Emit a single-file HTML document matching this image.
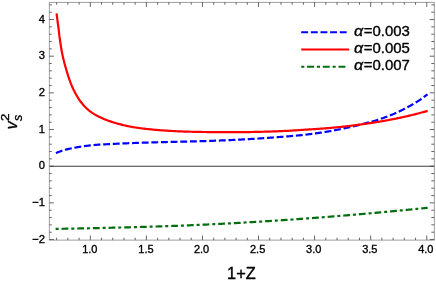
<!DOCTYPE html>
<html><head><meta charset="utf-8"><title>plot</title>
<style>
html,body{margin:0;padding:0;background:#fff;}
svg{display:block;font-family:"Liberation Sans",sans-serif;}
</style></head>
<body>
<svg width="436" height="284" viewBox="0 0 436 284">
<rect width="436" height="284" fill="#fff"/>
<g fill="none" stroke-linecap="butt">
<path d="M55.91,152.98 L56.75,152.66 L57.59,152.35 L58.43,152.03 L59.27,151.72 L60.12,151.42 L60.97,151.12 L61.82,150.83 L62.67,150.55 L63.53,150.28 L64.39,150.02 L65.25,149.77 L66.12,149.54 L66.99,149.32 L67.86,149.11 L68.74,148.91 L69.62,148.71 L70.49,148.51 L71.37,148.32 L72.25,148.14 L73.13,147.97 L74.01,147.80 L74.90,147.63 L75.78,147.47 L76.67,147.31 L77.55,147.16 L78.44,147.02 L79.33,146.88 L80.21,146.74 L81.10,146.60 L81.99,146.48 L82.88,146.35 L83.77,146.23 L84.66,146.11 L85.55,145.99 L86.44,145.88 L87.34,145.77 L88.23,145.66 L89.12,145.56 L90.01,145.45 L90.91,145.36 L91.80,145.26 L92.69,145.17 L93.59,145.08 L94.48,144.99 L95.38,144.90 L96.27,144.82 L97.17,144.74 L98.06,144.66 L98.96,144.59 L99.85,144.53 L100.75,144.48 L101.65,144.44 L102.55,144.40 L103.44,144.36 L104.34,144.33 L105.24,144.29 L106.14,144.26 L107.04,144.23 L107.93,144.19 L108.83,144.15 L109.73,144.11 L110.62,144.06 L111.52,144.01 L112.42,143.96 L113.32,143.91 L114.21,143.86 L115.11,143.82 L116.01,143.77 L116.91,143.73 L117.80,143.69 L118.70,143.64 L119.60,143.60 L120.50,143.56 L121.39,143.52 L122.29,143.48 L123.19,143.44 L124.09,143.40 L124.98,143.36 L125.88,143.33 L126.78,143.29 L127.68,143.25 L128.58,143.22 L129.47,143.18 L130.37,143.15 L131.27,143.11 L132.17,143.08 L133.06,143.04 L133.96,143.01 L134.86,142.98 L135.76,142.95 L136.66,142.91 L137.55,142.88 L138.45,142.85 L139.35,142.82 L140.25,142.79 L141.15,142.76 L142.04,142.73 L142.94,142.70 L143.84,142.67 L144.74,142.64 L145.64,142.61 L146.53,142.58 L147.43,142.56 L148.33,142.53 L149.23,142.50 L150.13,142.47 L151.03,142.45 L151.92,142.42 L152.82,142.39 L153.72,142.37 L154.62,142.34 L155.52,142.32 L156.41,142.29 L157.31,142.27 L158.21,142.24 L159.11,142.22 L160.01,142.19 L160.91,142.17 L161.80,142.15 L162.70,142.12 L163.60,142.10 L164.50,142.08 L165.40,142.05 L166.29,142.03 L167.19,142.01 L168.09,141.99 L168.99,141.96 L169.89,141.94 L170.79,141.92 L171.68,141.90 L172.58,141.88 L173.48,141.85 L174.38,141.83 L175.28,141.81 L176.18,141.79 L177.07,141.77 L177.97,141.74 L178.87,141.72 L179.77,141.70 L180.67,141.68 L181.56,141.66 L182.46,141.64 L183.36,141.62 L184.26,141.59 L185.16,141.57 L186.06,141.55 L186.95,141.53 L187.85,141.51 L188.75,141.49 L189.65,141.47 L190.55,141.44 L191.45,141.42 L192.34,141.40 L193.24,141.38 L194.14,141.36 L195.04,141.33 L195.94,141.31 L196.84,141.29 L197.73,141.27 L198.63,141.24 L199.53,141.22 L200.43,141.19 L201.33,141.17 L202.22,141.14 L203.12,141.11 L204.02,141.09 L204.92,141.06 L205.82,141.03 L206.71,141.00 L207.61,140.97 L208.51,140.94 L209.41,140.91 L210.31,140.88 L211.20,140.85 L212.10,140.81 L213.00,140.78 L213.90,140.75 L214.80,140.71 L215.69,140.68 L216.59,140.65 L217.49,140.61 L218.39,140.58 L219.29,140.54 L220.18,140.51 L221.08,140.47 L221.98,140.43 L222.88,140.40 L223.77,140.36 L224.67,140.32 L225.57,140.29 L226.47,140.25 L227.37,140.21 L228.26,140.17 L229.16,140.13 L230.06,140.09 L230.96,140.05 L231.85,140.01 L232.75,139.96 L233.65,139.92 L234.55,139.87 L235.44,139.83 L236.34,139.78 L237.24,139.74 L238.14,139.69 L239.03,139.64 L239.93,139.59 L240.83,139.55 L241.72,139.50 L242.62,139.45 L243.52,139.40 L244.42,139.35 L245.31,139.30 L246.21,139.25 L247.11,139.20 L248.00,139.15 L248.90,139.09 L249.80,139.04 L250.70,138.99 L251.59,138.94 L252.49,138.89 L253.39,138.84 L254.28,138.78 L255.18,138.73 L256.08,138.67 L256.97,138.62 L257.87,138.56 L258.77,138.50 L259.66,138.45 L260.56,138.39 L261.46,138.33 L262.35,138.27 L263.25,138.21 L264.15,138.15 L265.04,138.09 L265.94,138.02 L266.84,137.96 L267.73,137.90 L268.63,137.83 L269.52,137.77 L270.42,137.70 L271.32,137.64 L272.21,137.57 L273.11,137.50 L274.00,137.44 L274.90,137.37 L275.80,137.30 L276.69,137.23 L277.59,137.16 L278.48,137.09 L279.38,137.02 L280.28,136.95 L281.17,136.88 L282.07,136.81 L282.96,136.73 L283.86,136.66 L284.75,136.59 L285.65,136.52 L286.54,136.45 L287.44,136.37 L288.34,136.30 L289.23,136.23 L290.13,136.16 L291.02,136.08 L291.92,136.01 L292.81,135.93 L293.71,135.85 L294.60,135.78 L295.50,135.70 L296.39,135.62 L297.29,135.53 L298.18,135.45 L299.08,135.36 L299.97,135.28 L300.87,135.19 L301.76,135.10 L302.65,135.00 L303.55,134.91 L304.44,134.81 L305.33,134.71 L306.22,134.60 L307.12,134.50 L308.01,134.39 L308.90,134.28 L309.79,134.16 L310.68,134.05 L311.57,133.93 L312.46,133.82 L313.36,133.70 L314.25,133.58 L315.14,133.45 L316.03,133.33 L316.92,133.20 L317.81,133.08 L318.69,132.95 L319.58,132.81 L320.47,132.68 L321.36,132.55 L322.25,132.41 L323.14,132.27 L324.02,132.13 L324.91,131.99 L325.80,131.85 L326.68,131.70 L327.57,131.55 L328.46,131.40 L329.34,131.25 L330.23,131.09 L331.11,130.94 L332.00,130.78 L332.88,130.62 L333.76,130.46 L334.65,130.29 L335.53,130.13 L336.41,129.96 L337.30,129.79 L338.18,129.61 L339.06,129.44 L339.94,129.26 L340.82,129.08 L341.70,128.91 L342.58,128.72 L343.46,128.54 L344.34,128.36 L345.22,128.17 L346.10,127.98 L346.98,127.79 L347.85,127.60 L348.73,127.41 L349.61,127.21 L350.48,127.01 L351.36,126.81 L352.24,126.61 L353.11,126.41 L353.98,126.20 L354.86,125.99 L355.73,125.78 L356.60,125.57 L357.48,125.35 L358.35,125.13 L359.22,124.91 L360.09,124.69 L360.96,124.47 L361.83,124.24 L362.70,124.01 L363.57,123.78 L364.43,123.54 L365.30,123.31 L366.17,123.08 L367.04,122.86 L367.91,122.63 L368.78,122.40 L369.65,122.17 L370.52,121.94 L371.38,121.71 L372.25,121.47 L373.12,121.23 L373.98,120.98 L374.84,120.73 L375.70,120.47 L376.56,120.20 L377.42,119.93 L378.27,119.65 L379.13,119.38 L379.98,119.09 L380.83,118.81 L381.68,118.52 L382.53,118.23 L383.38,117.93 L384.23,117.63 L385.07,117.33 L385.92,117.02 L386.76,116.71 L387.60,116.39 L388.44,116.07 L389.28,115.75 L390.11,115.42 L390.95,115.08 L391.78,114.74 L392.61,114.39 L393.43,114.04 L394.26,113.69 L395.08,113.32 L395.90,112.96 L396.72,112.59 L397.54,112.21 L398.35,111.83 L399.17,111.45 L399.98,111.06 L400.78,110.67 L401.59,110.28 L402.40,109.88 L403.20,109.48 L404.00,109.07 L404.80,108.66 L405.60,108.25 L406.39,107.83 L407.19,107.41 L407.98,106.98 L408.77,106.55 L409.56,106.12 L410.34,105.69 L411.13,105.25 L411.91,104.80 L412.69,104.35 L413.46,103.90 L414.23,103.44 L415.00,102.98 L415.77,102.51 L416.53,102.04 L417.30,101.56 L418.05,101.08 L418.81,100.59 L419.56,100.10 L420.30,99.59 L421.04,99.08 L421.78,98.56 L422.51,98.04 L423.23,97.51 L423.96,96.98 L424.68,96.45 L425.40,95.91 L426.12,95.37 L426.84,94.83 L427.55,94.29" stroke="#0000ff" stroke-width="2.2" stroke-dasharray="6.89 2.756"/>
<path d="M56.56,13.33 L56.67,14.23 L56.78,15.12 L56.89,16.01 L57.00,16.90 L57.12,17.80 L57.23,18.69 L57.35,19.58 L57.47,20.47 L57.58,21.36 L57.70,22.25 L57.82,23.15 L57.94,24.04 L58.07,24.93 L58.19,25.82 L58.30,26.71 L58.42,27.60 L58.53,28.50 L58.64,29.39 L58.75,30.28 L58.85,31.17 L58.96,32.07 L59.06,32.96 L59.17,33.85 L59.28,34.75 L59.38,35.64 L59.50,36.53 L59.61,37.42 L59.73,38.32 L59.85,39.21 L59.97,40.10 L60.10,40.99 L60.23,41.88 L60.37,42.77 L60.50,43.66 L60.64,44.55 L60.78,45.43 L60.92,46.32 L61.06,47.21 L61.21,48.10 L61.36,48.98 L61.51,49.87 L61.67,50.76 L61.83,51.64 L62.00,52.52 L62.17,53.41 L62.35,54.29 L62.53,55.17 L62.72,56.05 L62.92,56.93 L63.12,57.80 L63.32,58.68 L63.53,59.55 L63.75,60.43 L63.97,61.30 L64.19,62.17 L64.42,63.04 L64.65,63.91 L64.88,64.78 L65.12,65.65 L65.36,66.51 L65.60,67.38 L65.85,68.25 L66.09,69.11 L66.34,69.97 L66.60,70.84 L66.85,71.70 L67.11,72.56 L67.37,73.42 L67.64,74.28 L67.91,75.14 L68.18,75.99 L68.46,76.85 L68.75,77.70 L69.04,78.55 L69.33,79.40 L69.63,80.25 L69.94,81.10 L70.25,81.94 L70.57,82.78 L70.90,83.62 L71.23,84.45 L71.57,85.29 L71.92,86.12 L72.28,86.94 L72.64,87.76 L73.02,88.58 L73.40,89.39 L73.79,90.20 L74.19,91.01 L74.60,91.81 L75.02,92.61 L75.44,93.40 L75.88,94.19 L76.32,94.97 L76.77,95.75 L77.23,96.52 L77.70,97.29 L78.18,98.05 L78.67,98.80 L79.17,99.55 L79.68,100.29 L80.20,101.02 L80.74,101.75 L81.28,102.46 L81.84,103.17 L82.40,103.87 L82.98,104.56 L83.57,105.24 L84.17,105.91 L84.79,106.56 L85.41,107.21 L86.05,107.84 L86.70,108.46 L87.37,109.07 L88.05,109.66 L88.74,110.24 L89.44,110.80 L90.15,111.35 L90.87,111.88 L91.60,112.41 L92.34,112.92 L93.09,113.42 L93.85,113.90 L94.61,114.38 L95.38,114.84 L96.16,115.29 L96.95,115.73 L97.74,116.15 L98.54,116.57 L99.34,116.97 L100.15,117.36 L100.97,117.74 L101.79,118.11 L102.62,118.47 L103.44,118.82 L104.28,119.16 L105.11,119.49 L105.95,119.82 L106.79,120.14 L107.63,120.45 L108.48,120.75 L109.33,121.05 L110.18,121.34 L111.03,121.63 L111.89,121.91 L112.74,122.18 L113.60,122.45 L114.46,122.71 L115.32,122.97 L116.19,123.22 L117.05,123.47 L117.92,123.71 L118.79,123.95 L119.66,124.18 L120.53,124.41 L121.40,124.63 L122.27,124.85 L123.14,125.06 L124.02,125.27 L124.89,125.48 L125.77,125.68 L126.65,125.87 L127.53,126.06 L128.41,126.25 L129.29,126.43 L130.17,126.60 L131.05,126.77 L131.94,126.93 L132.82,127.09 L133.71,127.24 L134.60,127.38 L135.49,127.52 L136.38,127.65 L137.27,127.77 L138.16,127.89 L139.05,128.01 L139.94,128.13 L140.84,128.24 L141.73,128.35 L142.62,128.47 L143.51,128.58 L144.41,128.69 L145.30,128.79 L146.19,128.90 L147.09,129.00 L147.98,129.09 L148.88,129.19 L149.77,129.28 L150.66,129.37 L151.56,129.46 L152.46,129.55 L153.35,129.63 L154.25,129.72 L155.14,129.80 L156.04,129.88 L156.93,129.95 L157.83,130.03 L158.73,130.10 L159.62,130.17 L160.52,130.24 L161.42,130.31 L162.31,130.37 L163.21,130.43 L164.11,130.49 L165.01,130.55 L165.90,130.61 L166.80,130.67 L167.70,130.72 L168.60,130.78 L169.49,130.84 L170.39,130.89 L171.29,130.95 L172.19,131.00 L173.09,131.05 L173.98,131.10 L174.88,131.15 L175.78,131.19 L176.68,131.24 L177.58,131.28 L178.48,131.32 L179.37,131.36 L180.27,131.40 L181.17,131.43 L182.07,131.47 L182.97,131.50 L183.87,131.54 L184.77,131.57 L185.67,131.60 L186.56,131.62 L187.46,131.65 L188.36,131.68 L189.26,131.70 L190.16,131.73 L191.06,131.75 L191.96,131.77 L192.86,131.79 L193.76,131.81 L194.66,131.83 L195.56,131.85 L196.45,131.87 L197.35,131.89 L198.25,131.90 L199.15,131.92 L200.05,131.94 L200.95,131.95 L201.85,131.96 L202.75,131.98 L203.65,131.99 L204.55,132.00 L205.45,132.01 L206.35,132.02 L207.25,132.03 L208.15,132.04 L209.04,132.05 L209.94,132.06 L210.84,132.07 L211.74,132.07 L212.64,132.08 L213.54,132.09 L214.44,132.09 L215.34,132.10 L216.24,132.10 L217.14,132.10 L218.04,132.11 L218.94,132.11 L219.84,132.11 L220.74,132.11 L221.64,132.11 L222.54,132.11 L223.44,132.11 L224.33,132.11 L225.23,132.11 L226.13,132.10 L227.03,132.10 L227.93,132.10 L228.83,132.10 L229.73,132.10 L230.63,132.10 L231.53,132.10 L232.43,132.10 L233.33,132.10 L234.23,132.10 L235.13,132.10 L236.03,132.10 L236.93,132.10 L237.83,132.10 L238.73,132.10 L239.62,132.10 L240.52,132.10 L241.42,132.10 L242.32,132.10 L243.22,132.09 L244.12,132.09 L245.02,132.09 L245.92,132.08 L246.82,132.07 L247.72,132.06 L248.62,132.05 L249.52,132.04 L250.42,132.03 L251.32,132.01 L252.22,131.99 L253.11,131.98 L254.01,131.96 L254.91,131.94 L255.81,131.92 L256.71,131.90 L257.61,131.88 L258.51,131.86 L259.41,131.84 L260.31,131.82 L261.21,131.80 L262.11,131.77 L263.01,131.75 L263.90,131.73 L264.80,131.70 L265.70,131.68 L266.60,131.65 L267.50,131.63 L268.40,131.60 L269.30,131.57 L270.20,131.54 L271.10,131.51 L272.00,131.48 L272.89,131.45 L273.79,131.42 L274.69,131.39 L275.59,131.35 L276.49,131.32 L277.39,131.28 L278.29,131.25 L279.19,131.21 L280.08,131.17 L280.98,131.13 L281.88,131.09 L282.78,131.05 L283.68,131.01 L284.58,130.97 L285.48,130.92 L286.37,130.87 L287.27,130.83 L288.17,130.78 L289.07,130.73 L289.97,130.67 L290.86,130.62 L291.76,130.57 L292.66,130.51 L293.56,130.46 L294.45,130.40 L295.35,130.35 L296.25,130.29 L297.15,130.23 L298.04,130.17 L298.94,130.12 L299.84,130.06 L300.74,130.00 L301.63,129.94 L302.53,129.88 L303.43,129.82 L304.33,129.76 L305.22,129.71 L306.12,129.65 L307.02,129.59 L307.92,129.53 L308.81,129.47 L309.71,129.42 L310.61,129.36 L311.51,129.30 L312.40,129.24 L313.30,129.18 L314.20,129.12 L315.10,129.06 L315.99,129.00 L316.89,128.94 L317.79,128.87 L318.69,128.81 L319.58,128.75 L320.48,128.68 L321.38,128.62 L322.27,128.55 L323.17,128.49 L324.07,128.42 L324.97,128.35 L325.86,128.28 L326.76,128.21 L327.65,128.14 L328.55,128.06 L329.45,127.99 L330.34,127.92 L331.24,127.84 L332.14,127.76 L333.03,127.68 L333.93,127.60 L334.82,127.52 L335.72,127.44 L336.61,127.35 L337.51,127.27 L338.41,127.18 L339.30,127.09 L340.19,127.00 L341.09,126.90 L341.98,126.81 L342.88,126.71 L343.77,126.61 L344.67,126.51 L345.56,126.41 L346.45,126.30 L347.35,126.20 L348.24,126.09 L349.13,125.98 L350.02,125.87 L350.92,125.76 L351.81,125.65 L352.70,125.53 L353.59,125.42 L354.48,125.30 L355.38,125.19 L356.27,125.07 L357.16,124.95 L358.05,124.83 L358.94,124.71 L359.83,124.59 L360.73,124.47 L361.62,124.35 L362.51,124.23 L363.40,124.10 L364.29,123.98 L365.18,123.86 L366.07,123.73 L366.96,123.60 L367.85,123.47 L368.74,123.34 L369.63,123.21 L370.52,123.08 L371.41,122.95 L372.30,122.81 L373.19,122.67 L374.08,122.53 L374.96,122.39 L375.85,122.25 L376.74,122.11 L377.63,121.96 L378.52,121.82 L379.40,121.67 L380.29,121.52 L381.18,121.37 L382.06,121.22 L382.95,121.06 L383.83,120.91 L384.72,120.75 L385.61,120.59 L386.49,120.43 L387.38,120.27 L388.26,120.10 L389.14,119.94 L390.03,119.77 L390.91,119.60 L391.79,119.43 L392.68,119.26 L393.56,119.08 L394.44,118.91 L395.32,118.73 L396.20,118.55 L397.09,118.37 L397.97,118.19 L398.85,118.00 L399.73,117.82 L400.61,117.63 L401.48,117.44 L402.36,117.25 L403.24,117.05 L404.12,116.86 L405.00,116.66 L405.87,116.46 L406.75,116.26 L407.63,116.06 L408.50,115.85 L409.38,115.64 L410.25,115.43 L411.13,115.22 L412.00,115.01 L412.87,114.80 L413.75,114.58 L414.62,114.36 L415.49,114.14 L416.36,113.92 L417.23,113.70 L418.11,113.47 L418.98,113.24 L419.84,113.01 L420.71,112.78 L421.58,112.55 L422.45,112.31 L423.32,112.07 L424.18,111.84 L425.05,111.59 L425.92,111.35 L426.78,111.10 L427.65,110.86" stroke="#ff0000" stroke-width="2.2"/>
<path d="M55.63,228.88 L56.52,228.86 L57.42,228.85 L58.32,228.84 L59.22,228.83 L60.12,228.81 L61.02,228.80 L61.91,228.78 L62.81,228.77 L63.71,228.75 L64.61,228.74 L65.51,228.72 L66.40,228.71 L67.30,228.69 L68.20,228.68 L69.10,228.66 L70.00,228.64 L70.89,228.63 L71.79,228.61 L72.69,228.59 L73.59,228.57 L74.49,228.56 L75.38,228.54 L76.28,228.52 L77.18,228.50 L78.08,228.49 L78.98,228.47 L79.87,228.45 L80.77,228.43 L81.67,228.41 L82.57,228.40 L83.47,228.38 L84.36,228.36 L85.26,228.34 L86.16,228.32 L87.06,228.31 L87.96,228.29 L88.85,228.27 L89.75,228.25 L90.65,228.23 L91.55,228.21 L92.45,228.19 L93.34,228.17 L94.24,228.15 L95.14,228.13 L96.04,228.11 L96.94,228.09 L97.83,228.07 L98.73,228.05 L99.63,228.03 L100.53,228.01 L101.43,227.98 L102.32,227.96 L103.22,227.94 L104.12,227.92 L105.02,227.90 L105.92,227.87 L106.81,227.85 L107.71,227.83 L108.61,227.81 L109.51,227.79 L110.40,227.76 L111.30,227.74 L112.20,227.72 L113.10,227.70 L114.00,227.67 L114.89,227.65 L115.79,227.63 L116.69,227.61 L117.59,227.59 L118.49,227.56 L119.38,227.54 L120.28,227.52 L121.18,227.50 L122.08,227.48 L122.98,227.45 L123.87,227.43 L124.77,227.41 L125.67,227.39 L126.57,227.36 L127.47,227.34 L128.36,227.32 L129.26,227.29 L130.16,227.27 L131.06,227.25 L131.95,227.22 L132.85,227.20 L133.75,227.17 L134.65,227.15 L135.55,227.12 L136.44,227.10 L137.34,227.07 L138.24,227.05 L139.14,227.02 L140.04,227.00 L140.93,226.97 L141.83,226.95 L142.73,226.92 L143.63,226.89 L144.52,226.87 L145.42,226.84 L146.32,226.81 L147.22,226.79 L148.12,226.76 L149.01,226.73 L149.91,226.71 L150.81,226.68 L151.71,226.65 L152.60,226.62 L153.50,226.59 L154.40,226.56 L155.30,226.54 L156.20,226.51 L157.09,226.48 L157.99,226.45 L158.89,226.42 L159.79,226.39 L160.68,226.36 L161.58,226.33 L162.48,226.30 L163.38,226.27 L164.27,226.24 L165.17,226.21 L166.07,226.18 L166.97,226.14 L167.87,226.11 L168.76,226.08 L169.66,226.05 L170.56,226.02 L171.46,225.98 L172.35,225.95 L173.25,225.92 L174.15,225.89 L175.05,225.85 L175.94,225.82 L176.84,225.78 L177.74,225.75 L178.64,225.72 L179.53,225.68 L180.43,225.65 L181.33,225.61 L182.23,225.58 L183.12,225.54 L184.02,225.51 L184.92,225.47 L185.82,225.44 L186.71,225.40 L187.61,225.36 L188.51,225.33 L189.41,225.29 L190.30,225.25 L191.20,225.22 L192.10,225.18 L193.00,225.14 L193.89,225.10 L194.79,225.06 L195.69,225.03 L196.59,224.99 L197.48,224.95 L198.38,224.91 L199.28,224.87 L200.17,224.83 L201.07,224.79 L201.97,224.75 L202.87,224.71 L203.76,224.67 L204.66,224.63 L205.56,224.59 L206.46,224.55 L207.35,224.50 L208.25,224.46 L209.15,224.42 L210.04,224.38 L210.94,224.33 L211.84,224.29 L212.74,224.25 L213.63,224.21 L214.53,224.16 L215.43,224.12 L216.32,224.07 L217.22,224.03 L218.12,223.98 L219.02,223.94 L219.91,223.89 L220.81,223.85 L221.71,223.80 L222.60,223.76 L223.50,223.71 L224.40,223.66 L225.29,223.62 L226.19,223.57 L227.09,223.52 L227.99,223.48 L228.88,223.43 L229.78,223.38 L230.68,223.33 L231.57,223.28 L232.47,223.23 L233.37,223.18 L234.26,223.13 L235.16,223.09 L236.06,223.04 L236.95,222.98 L237.85,222.93 L238.75,222.88 L239.64,222.83 L240.54,222.78 L241.44,222.73 L242.33,222.68 L243.23,222.63 L244.13,222.58 L245.02,222.52 L245.92,222.47 L246.82,222.42 L247.71,222.37 L248.61,222.31 L249.51,222.26 L250.40,222.21 L251.30,222.15 L252.20,222.10 L253.09,222.05 L253.99,221.99 L254.89,221.94 L255.78,221.88 L256.68,221.83 L257.58,221.77 L258.47,221.72 L259.37,221.66 L260.27,221.61 L261.16,221.55 L262.06,221.50 L262.96,221.44 L263.85,221.38 L264.75,221.33 L265.65,221.27 L266.54,221.21 L267.44,221.16 L268.33,221.10 L269.23,221.04 L270.13,220.98 L271.02,220.93 L271.92,220.87 L272.82,220.81 L273.71,220.75 L274.61,220.69 L275.50,220.63 L276.40,220.57 L277.30,220.51 L278.19,220.46 L279.09,220.40 L279.99,220.34 L280.88,220.28 L281.78,220.22 L282.67,220.15 L283.57,220.09 L284.47,220.03 L285.36,219.97 L286.26,219.91 L287.15,219.85 L288.05,219.79 L288.95,219.73 L289.84,219.66 L290.74,219.60 L291.64,219.54 L292.53,219.48 L293.43,219.41 L294.32,219.35 L295.22,219.29 L296.12,219.22 L297.01,219.16 L297.91,219.10 L298.80,219.03 L299.70,218.97 L300.59,218.90 L301.49,218.84 L302.39,218.77 L303.28,218.71 L304.18,218.64 L305.07,218.58 L305.97,218.51 L306.87,218.45 L307.76,218.38 L308.66,218.31 L309.55,218.25 L310.45,218.18 L311.34,218.11 L312.24,218.05 L313.14,217.98 L314.03,217.91 L314.93,217.84 L315.82,217.78 L316.72,217.71 L317.61,217.64 L318.51,217.57 L319.40,217.50 L320.30,217.43 L321.20,217.36 L322.09,217.30 L322.99,217.23 L323.88,217.16 L324.78,217.09 L325.67,217.02 L326.57,216.95 L327.46,216.88 L328.36,216.81 L329.25,216.73 L330.15,216.66 L331.05,216.59 L331.94,216.52 L332.84,216.45 L333.73,216.38 L334.63,216.31 L335.52,216.23 L336.42,216.16 L337.31,216.09 L338.21,216.02 L339.10,215.94 L340.00,215.87 L340.89,215.80 L341.79,215.72 L342.68,215.65 L343.58,215.58 L344.47,215.50 L345.37,215.43 L346.26,215.35 L347.16,215.28 L348.05,215.20 L348.95,215.13 L349.84,215.05 L350.74,214.98 L351.63,214.90 L352.53,214.83 L353.42,214.75 L354.32,214.67 L355.21,214.60 L356.11,214.52 L357.00,214.44 L357.90,214.37 L358.79,214.29 L359.69,214.21 L360.58,214.14 L361.48,214.06 L362.37,213.98 L363.27,213.90 L364.16,213.82 L365.06,213.74 L365.95,213.67 L366.85,213.59 L367.74,213.51 L368.64,213.43 L369.53,213.35 L370.43,213.27 L371.32,213.19 L372.22,213.11 L373.11,213.03 L374.00,212.95 L374.90,212.87 L375.79,212.79 L376.69,212.71 L377.58,212.63 L378.48,212.54 L379.37,212.46 L380.27,212.38 L381.16,212.30 L382.06,212.22 L382.95,212.13 L383.84,212.05 L384.74,211.97 L385.63,211.89 L386.53,211.80 L387.42,211.72 L388.32,211.64 L389.21,211.55 L390.10,211.47 L391.00,211.39 L391.89,211.30 L392.79,211.22 L393.68,211.13 L394.58,211.05 L395.47,210.96 L396.36,210.88 L397.26,210.79 L398.15,210.71 L399.05,210.62 L399.94,210.53 L400.83,210.45 L401.73,210.36 L402.62,210.28 L403.52,210.19 L404.41,210.10 L405.30,210.02 L406.20,209.93 L407.09,209.84 L407.99,209.75 L408.88,209.66 L409.77,209.58 L410.67,209.49 L411.56,209.40 L412.46,209.31 L413.35,209.22 L414.24,209.13 L415.14,209.04 L416.03,208.96 L416.92,208.87 L417.82,208.78 L418.71,208.69 L419.61,208.60 L420.50,208.51 L421.39,208.42 L422.29,208.33 L423.18,208.23 L424.07,208.14 L424.97,208.05 L425.86,207.96 L426.75,207.87 L427.65,207.78" stroke="#006e0c" stroke-width="2.2" stroke-dasharray="3.0 2.935 6.8 2.935"/>
</g>
<line x1="49.3" y1="166.25" x2="434.3" y2="166.25" stroke="#3c3c3c" stroke-width="1"/>
<rect x="49.3" y="2.35" width="385.0" height="237.75" fill="none" stroke="#8e8e8e" stroke-width="0.85"/>
<g stroke="#404040" stroke-width="0.8">
<line x1="56.65" y1="240.1" x2="56.65" y2="237.7"/>
<line x1="56.65" y1="2.35" x2="56.65" y2="4.75"/>
<line x1="67.87" y1="240.1" x2="67.87" y2="237.7"/>
<line x1="67.87" y1="2.35" x2="67.87" y2="4.75"/>
<line x1="79.08" y1="240.1" x2="79.08" y2="237.7"/>
<line x1="79.08" y1="2.35" x2="79.08" y2="4.75"/>
<line x1="90.30" y1="240.1" x2="90.30" y2="235.5"/>
<line x1="90.30" y1="2.35" x2="90.30" y2="6.949999999999999"/>
<line x1="101.52" y1="240.1" x2="101.52" y2="237.7"/>
<line x1="101.52" y1="2.35" x2="101.52" y2="4.75"/>
<line x1="112.73" y1="240.1" x2="112.73" y2="237.7"/>
<line x1="112.73" y1="2.35" x2="112.73" y2="4.75"/>
<line x1="123.95" y1="240.1" x2="123.95" y2="237.7"/>
<line x1="123.95" y1="2.35" x2="123.95" y2="4.75"/>
<line x1="135.16" y1="240.1" x2="135.16" y2="237.7"/>
<line x1="135.16" y1="2.35" x2="135.16" y2="4.75"/>
<line x1="146.38" y1="240.1" x2="146.38" y2="235.5"/>
<line x1="146.38" y1="2.35" x2="146.38" y2="6.949999999999999"/>
<line x1="157.59" y1="240.1" x2="157.59" y2="237.7"/>
<line x1="157.59" y1="2.35" x2="157.59" y2="4.75"/>
<line x1="168.81" y1="240.1" x2="168.81" y2="237.7"/>
<line x1="168.81" y1="2.35" x2="168.81" y2="4.75"/>
<line x1="180.02" y1="240.1" x2="180.02" y2="237.7"/>
<line x1="180.02" y1="2.35" x2="180.02" y2="4.75"/>
<line x1="191.23" y1="240.1" x2="191.23" y2="237.7"/>
<line x1="191.23" y1="2.35" x2="191.23" y2="4.75"/>
<line x1="202.45" y1="240.1" x2="202.45" y2="235.5"/>
<line x1="202.45" y1="2.35" x2="202.45" y2="6.949999999999999"/>
<line x1="213.67" y1="240.1" x2="213.67" y2="237.7"/>
<line x1="213.67" y1="2.35" x2="213.67" y2="4.75"/>
<line x1="224.88" y1="240.1" x2="224.88" y2="237.7"/>
<line x1="224.88" y1="2.35" x2="224.88" y2="4.75"/>
<line x1="236.09" y1="240.1" x2="236.09" y2="237.7"/>
<line x1="236.09" y1="2.35" x2="236.09" y2="4.75"/>
<line x1="247.31" y1="240.1" x2="247.31" y2="237.7"/>
<line x1="247.31" y1="2.35" x2="247.31" y2="4.75"/>
<line x1="258.53" y1="240.1" x2="258.53" y2="235.5"/>
<line x1="258.53" y1="2.35" x2="258.53" y2="6.949999999999999"/>
<line x1="269.74" y1="240.1" x2="269.74" y2="237.7"/>
<line x1="269.74" y1="2.35" x2="269.74" y2="4.75"/>
<line x1="280.96" y1="240.1" x2="280.96" y2="237.7"/>
<line x1="280.96" y1="2.35" x2="280.96" y2="4.75"/>
<line x1="292.17" y1="240.1" x2="292.17" y2="237.7"/>
<line x1="292.17" y1="2.35" x2="292.17" y2="4.75"/>
<line x1="303.38" y1="240.1" x2="303.38" y2="237.7"/>
<line x1="303.38" y1="2.35" x2="303.38" y2="4.75"/>
<line x1="314.60" y1="240.1" x2="314.60" y2="235.5"/>
<line x1="314.60" y1="2.35" x2="314.60" y2="6.949999999999999"/>
<line x1="325.81" y1="240.1" x2="325.81" y2="237.7"/>
<line x1="325.81" y1="2.35" x2="325.81" y2="4.75"/>
<line x1="337.03" y1="240.1" x2="337.03" y2="237.7"/>
<line x1="337.03" y1="2.35" x2="337.03" y2="4.75"/>
<line x1="348.25" y1="240.1" x2="348.25" y2="237.7"/>
<line x1="348.25" y1="2.35" x2="348.25" y2="4.75"/>
<line x1="359.46" y1="240.1" x2="359.46" y2="237.7"/>
<line x1="359.46" y1="2.35" x2="359.46" y2="4.75"/>
<line x1="370.68" y1="240.1" x2="370.68" y2="235.5"/>
<line x1="370.68" y1="2.35" x2="370.68" y2="6.949999999999999"/>
<line x1="381.89" y1="240.1" x2="381.89" y2="237.7"/>
<line x1="381.89" y1="2.35" x2="381.89" y2="4.75"/>
<line x1="393.11" y1="240.1" x2="393.11" y2="237.7"/>
<line x1="393.11" y1="2.35" x2="393.11" y2="4.75"/>
<line x1="404.32" y1="240.1" x2="404.32" y2="237.7"/>
<line x1="404.32" y1="2.35" x2="404.32" y2="4.75"/>
<line x1="415.54" y1="240.1" x2="415.54" y2="237.7"/>
<line x1="415.54" y1="2.35" x2="415.54" y2="4.75"/>
<line x1="426.75" y1="240.1" x2="426.75" y2="235.5"/>
<line x1="426.75" y1="2.35" x2="426.75" y2="6.949999999999999"/>
<line x1="49.3" y1="239.54" x2="53.9" y2="239.54"/>
<line x1="434.3" y1="239.54" x2="429.7" y2="239.54"/>
<line x1="49.3" y1="232.21" x2="51.8" y2="232.21"/>
<line x1="434.3" y1="232.21" x2="431.3" y2="232.21"/>
<line x1="49.3" y1="224.87" x2="51.8" y2="224.87"/>
<line x1="434.3" y1="224.87" x2="431.3" y2="224.87"/>
<line x1="49.3" y1="217.54" x2="51.8" y2="217.54"/>
<line x1="434.3" y1="217.54" x2="431.3" y2="217.54"/>
<line x1="49.3" y1="210.20" x2="51.8" y2="210.20"/>
<line x1="434.3" y1="210.20" x2="431.3" y2="210.20"/>
<line x1="49.3" y1="202.87" x2="53.9" y2="202.87"/>
<line x1="434.3" y1="202.87" x2="429.7" y2="202.87"/>
<line x1="49.3" y1="195.54" x2="51.8" y2="195.54"/>
<line x1="434.3" y1="195.54" x2="431.3" y2="195.54"/>
<line x1="49.3" y1="188.20" x2="51.8" y2="188.20"/>
<line x1="434.3" y1="188.20" x2="431.3" y2="188.20"/>
<line x1="49.3" y1="180.87" x2="51.8" y2="180.87"/>
<line x1="434.3" y1="180.87" x2="431.3" y2="180.87"/>
<line x1="49.3" y1="173.53" x2="51.8" y2="173.53"/>
<line x1="434.3" y1="173.53" x2="431.3" y2="173.53"/>
<line x1="49.3" y1="166.20" x2="53.9" y2="166.20"/>
<line x1="434.3" y1="166.20" x2="429.7" y2="166.20"/>
<line x1="49.3" y1="158.87" x2="51.8" y2="158.87"/>
<line x1="434.3" y1="158.87" x2="431.3" y2="158.87"/>
<line x1="49.3" y1="151.53" x2="51.8" y2="151.53"/>
<line x1="434.3" y1="151.53" x2="431.3" y2="151.53"/>
<line x1="49.3" y1="144.20" x2="51.8" y2="144.20"/>
<line x1="434.3" y1="144.20" x2="431.3" y2="144.20"/>
<line x1="49.3" y1="136.86" x2="51.8" y2="136.86"/>
<line x1="434.3" y1="136.86" x2="431.3" y2="136.86"/>
<line x1="49.3" y1="129.53" x2="53.9" y2="129.53"/>
<line x1="434.3" y1="129.53" x2="429.7" y2="129.53"/>
<line x1="49.3" y1="122.20" x2="51.8" y2="122.20"/>
<line x1="434.3" y1="122.20" x2="431.3" y2="122.20"/>
<line x1="49.3" y1="114.86" x2="51.8" y2="114.86"/>
<line x1="434.3" y1="114.86" x2="431.3" y2="114.86"/>
<line x1="49.3" y1="107.53" x2="51.8" y2="107.53"/>
<line x1="434.3" y1="107.53" x2="431.3" y2="107.53"/>
<line x1="49.3" y1="100.19" x2="51.8" y2="100.19"/>
<line x1="434.3" y1="100.19" x2="431.3" y2="100.19"/>
<line x1="49.3" y1="92.86" x2="53.9" y2="92.86"/>
<line x1="434.3" y1="92.86" x2="429.7" y2="92.86"/>
<line x1="49.3" y1="85.53" x2="51.8" y2="85.53"/>
<line x1="434.3" y1="85.53" x2="431.3" y2="85.53"/>
<line x1="49.3" y1="78.19" x2="51.8" y2="78.19"/>
<line x1="434.3" y1="78.19" x2="431.3" y2="78.19"/>
<line x1="49.3" y1="70.86" x2="51.8" y2="70.86"/>
<line x1="434.3" y1="70.86" x2="431.3" y2="70.86"/>
<line x1="49.3" y1="63.52" x2="51.8" y2="63.52"/>
<line x1="434.3" y1="63.52" x2="431.3" y2="63.52"/>
<line x1="49.3" y1="56.19" x2="53.9" y2="56.19"/>
<line x1="434.3" y1="56.19" x2="429.7" y2="56.19"/>
<line x1="49.3" y1="48.86" x2="51.8" y2="48.86"/>
<line x1="434.3" y1="48.86" x2="431.3" y2="48.86"/>
<line x1="49.3" y1="41.52" x2="51.8" y2="41.52"/>
<line x1="434.3" y1="41.52" x2="431.3" y2="41.52"/>
<line x1="49.3" y1="34.19" x2="51.8" y2="34.19"/>
<line x1="434.3" y1="34.19" x2="431.3" y2="34.19"/>
<line x1="49.3" y1="26.85" x2="51.8" y2="26.85"/>
<line x1="434.3" y1="26.85" x2="431.3" y2="26.85"/>
<line x1="49.3" y1="19.52" x2="53.9" y2="19.52"/>
<line x1="434.3" y1="19.52" x2="429.7" y2="19.52"/>
<line x1="49.3" y1="12.19" x2="51.8" y2="12.19"/>
<line x1="434.3" y1="12.19" x2="431.3" y2="12.19"/>
<line x1="49.3" y1="4.85" x2="51.8" y2="4.85"/>
<line x1="434.3" y1="4.85" x2="431.3" y2="4.85"/>
</g>
<g fill="none" stroke-linecap="butt">
<line x1="301.2" y1="32.3" x2="349.2" y2="32.3" stroke="#0000ff" stroke-width="2" stroke-dasharray="6.9 2.74"/>
<line x1="301.2" y1="49.4" x2="349.2" y2="49.4" stroke="#ff0000" stroke-width="2"/>
<line x1="301.2" y1="66.8" x2="347.5" y2="66.8" stroke="#006e0c" stroke-width="2" stroke-dasharray="3.1 2.8 6.9 2.9"/>
</g>
<g fill="#000" stroke="#000" stroke-width="0.35" style="filter:grayscale(1)">
<text x="89.85" y="253.4" text-anchor="middle" font-size="11">1.0</text>
<text x="145.93" y="253.4" text-anchor="middle" font-size="11">1.5</text>
<text x="201.55" y="253.4" text-anchor="middle" font-size="11">2.0</text>
<text x="257.63" y="253.4" text-anchor="middle" font-size="11">2.5</text>
<text x="313.70" y="253.4" text-anchor="middle" font-size="11">3.0</text>
<text x="369.78" y="253.4" text-anchor="middle" font-size="11">3.5</text>
<text x="425.85" y="253.4" text-anchor="middle" font-size="11">4.0</text>
<text x="44.9" y="242.54" text-anchor="end" font-size="11.2">−2</text>
<text x="44.9" y="205.87" text-anchor="end" font-size="11.2">−1</text>
<text x="44.9" y="169.20" text-anchor="end" font-size="11.2">0</text>
<text x="44.9" y="132.53" text-anchor="end" font-size="11.2">1</text>
<text x="44.9" y="95.86" text-anchor="end" font-size="11.2">2</text>
<text x="44.9" y="59.19" text-anchor="end" font-size="11.2">3</text>
<text x="44.9" y="22.52" text-anchor="end" font-size="11.2">4</text>
<text transform="translate(227.1,279.3) scale(1.05,1)" font-size="15.6">1+Z</text>
<g transform="translate(17.3,129.5) rotate(-90)">
<text x="0" y="0" font-size="16.5" font-style="italic">v</text>
<text x="8.5" y="4.4" font-size="12.3" font-style="italic">s</text>
<text transform="translate(8.6,-8.4) scale(1.2,1)" font-size="11">2</text>
</g>
<text transform="translate(354,35.9) scale(1.045,1)" font-size="14.3"><tspan font-style="italic" font-size="15.4">α</tspan><tspan dx="0.6">=0.003</tspan></text>
<text transform="translate(354,53.0) scale(1.045,1)" font-size="14.3"><tspan font-style="italic" font-size="15.4">α</tspan><tspan dx="0.6">=0.005</tspan></text>
<text transform="translate(354,70.39999999999999) scale(1.045,1)" font-size="14.3"><tspan font-style="italic" font-size="15.4">α</tspan><tspan dx="0.6">=0.007</tspan></text>
</g>
</svg>
</body></html>
